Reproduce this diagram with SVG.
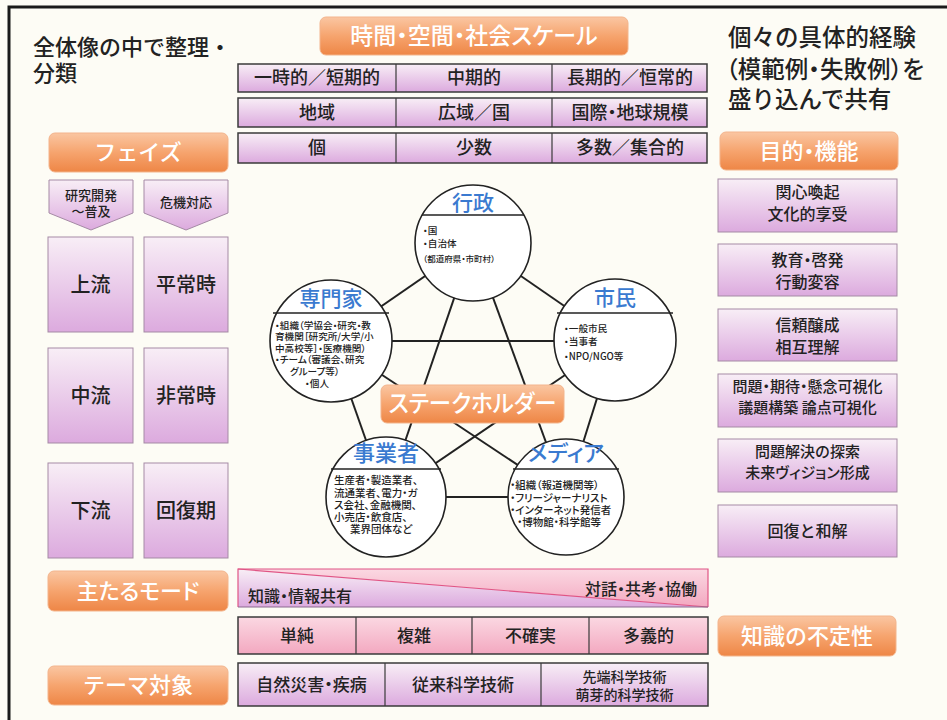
<svg xmlns="http://www.w3.org/2000/svg" width="947" height="720" viewBox="0 0 947 720">
<defs>
<linearGradient id="og" x1="0" y1="0" x2="0" y2="1"><stop offset="0" stop-color="#fac6a2"/><stop offset="0.5" stop-color="#f6a46e"/><stop offset="1" stop-color="#ee8646"/></linearGradient>
<linearGradient id="lg" x1="0" y1="0" x2="0" y2="1"><stop offset="0" stop-color="#f8eef6"/><stop offset="1" stop-color="#dcaade"/></linearGradient>
<linearGradient id="pg" x1="0" y1="0" x2="0" y2="1"><stop offset="0" stop-color="#fbd8e2"/><stop offset="1" stop-color="#f3a8c0"/></linearGradient>
</defs>
<style>
.o{fill:url(#og);stroke:#f3b48c;stroke-width:1}
.l{fill:url(#lg);stroke:#a58aa5;stroke-width:1}
.g{fill:url(#lg);stroke:#3a3a3a;stroke-width:1.5}
.k{fill:url(#pg);stroke:#3a3a3a;stroke-width:1.5}
.d{stroke:#3a3a3a;stroke-width:1.2}
text{font-family:"Noto Sans CJK JP","Noto Sans CJK SC",sans-serif;fill:#222;font-weight:500}
.ow{fill:#fff;text-anchor:middle}
.c{text-anchor:middle}
.p{font-feature-settings:"palt"}
.ttl{fill:#3a7ad0;text-anchor:middle;font-feature-settings:"palt"}
.circ{fill:#fff;stroke:#222;stroke-width:1.6}
.ln{stroke:#222;stroke-width:2}
.dv{stroke:#222;stroke-width:1.3}
.sm{font-size:9.6px;font-feature-settings:"palt"}
</style>
<rect x="0" y="0" width="947" height="720" fill="#fdfcf5"/>
<path d="M9 720 V7 H947" fill="none" stroke="#1a1a1a" stroke-width="3"/>

<g id="title-left">
<text x="33" y="55" font-size="22">全体像の中で整理・</text>
<text x="33" y="81" font-size="22">分類</text>
</g>
<g id="title-right">
<text x="728" y="46" font-size="23.5">個々の具体的経験</text>
<text x="726" y="78" font-size="23.5" class="p">（模範例・失敗例）を</text>
<text x="728" y="108" font-size="23.5">盛り込んで共有</text>
</g>

<g id="scale-header">
<rect class="o" x="320" y="17" width="308" height="38" rx="6"/>
<text class="ow p" x="474" y="44" font-size="23">時間・空間・社会スケール</text>
</g>
<g id="scale-time">
<rect class="g" x="238" y="64" width="469" height="28"/>
<line class="d" x1="396" y1="64" x2="396" y2="92"/><line class="d" x1="552" y1="64" x2="552" y2="92"/>
<text class="c" x="317" y="84" font-size="18">一時的／短期的</text>
<text class="c" x="474" y="84" font-size="18">中期的</text>
<text class="c" x="630" y="84" font-size="18">長期的／恒常的</text>
</g>
<g id="scale-space">
<rect class="g" x="238" y="98" width="469" height="29"/>
<line class="d" x1="396" y1="98" x2="396" y2="127"/><line class="d" x1="552" y1="98" x2="552" y2="127"/>
<text class="c" x="317" y="119" font-size="18">地域</text>
<text class="c" x="474" y="119" font-size="18">広域／国</text>
<text class="c p" x="630" y="119" font-size="18">国際・地球規模</text>
</g>
<g id="scale-social">
<rect class="g" x="238" y="133" width="469" height="30"/>
<line class="d" x1="396" y1="133" x2="396" y2="163"/><line class="d" x1="552" y1="133" x2="552" y2="163"/>
<text class="c" x="317" y="154" font-size="18">個</text>
<text class="c" x="474" y="154" font-size="18">少数</text>
<text class="c" x="630" y="154" font-size="18">多数／集合的</text>
</g>

<g id="phase-header">
<rect class="o" x="49" y="133" width="179" height="39" rx="6"/>
<text class="ow" x="138" y="160" font-size="22">フェイズ</text>
</g>
<g id="phase-rd">
<polygon class="l" points="49,180 133,180 133,213 91,230 49,213"/>
<text class="c" x="91" y="200" font-size="13">研究開発</text>
<text class="c" x="91" y="216" font-size="13">～普及</text>
</g>
<g id="phase-crisis">
<polygon class="l" points="144,180 228,180 228,213 186,230 144,213"/>
<text class="c" x="186" y="207" font-size="13">危機対応</text>
</g>
<g id="phase-upstream"><rect class="l" x="48" y="237" width="85" height="95"/><text class="c" x="90.5" y="292" font-size="20">上流</text></g>
<g id="phase-normal"><rect class="l" x="144" y="237" width="84" height="95"/><text class="c" x="186" y="292" font-size="20">平常時</text></g>
<g id="phase-midstream"><rect class="l" x="48" y="348" width="85" height="95"/><text class="c" x="90.5" y="403" font-size="20">中流</text></g>
<g id="phase-emergency"><rect class="l" x="144" y="348" width="84" height="95"/><text class="c" x="186" y="403" font-size="20">非常時</text></g>
<g id="phase-downstream"><rect class="l" x="48" y="463" width="85" height="95"/><text class="c" x="90.5" y="518" font-size="20">下流</text></g>
<g id="phase-recovery"><rect class="l" x="144" y="463" width="84" height="95"/><text class="c" x="186" y="518" font-size="20">回復期</text></g>

<g id="purpose-header">
<rect class="o" x="720" y="132" width="178" height="38" rx="6"/>
<text class="ow p" x="809" y="159" font-size="22">目的・機能</text>
</g>
<g id="purpose-1"><rect class="l" x="718" y="179" width="179" height="53"/><text class="c" x="807.5" y="198" font-size="16">関心喚起</text><text class="c" x="807.5" y="220" font-size="16">文化的享受</text></g>
<g id="purpose-2"><rect class="l" x="718" y="244" width="179" height="52"/><text class="c p" x="807.5" y="266" font-size="16">教育・啓発</text><text class="c" x="807.5" y="288" font-size="16">行動変容</text></g>
<g id="purpose-3"><rect class="l" x="718" y="309" width="179" height="52"/><text class="c" x="807.5" y="331" font-size="16">信頼醸成</text><text class="c" x="807.5" y="353" font-size="16">相互理解</text></g>
<g id="purpose-4"><rect class="l" x="718" y="374" width="179" height="53"/><text class="c p" x="807.5" y="392" font-size="15">問題・期待・懸念可視化</text><text class="c" x="807.5" y="413" font-size="15">議題構築 論点可視化</text></g>
<g id="purpose-5"><rect class="l" x="718" y="439" width="179" height="53"/><text class="c" x="807.5" y="457" font-size="15">問題解決の探索</text><text class="c p" x="807.5" y="478" font-size="15">未来ヴィジョン形成</text></g>
<g id="purpose-6"><rect class="l" x="718" y="505" width="179" height="52"/><text class="c" x="807.5" y="537" font-size="16">回復と和解</text></g>

<g id="connectors">
<line class="ln" x1="473" y1="243" x2="331" y2="341"/>
<line class="ln" x1="473" y1="243" x2="615" y2="341"/>
<line class="ln" x1="473" y1="243" x2="386" y2="497"/>
<line class="ln" x1="473" y1="243" x2="566" y2="497"/>
<line class="ln" x1="331" y1="341" x2="615" y2="341"/>
<line class="ln" x1="331" y1="341" x2="386" y2="497"/>
<line class="ln" x1="331" y1="341" x2="566" y2="497"/>
<line class="ln" x1="615" y1="341" x2="566" y2="497"/>
<line class="ln" x1="615" y1="341" x2="386" y2="497"/>
<line class="ln" x1="386" y1="497" x2="566" y2="497"/>
</g>

<g id="gyosei">
<circle class="circ" cx="473" cy="243" r="58"/>
<line class="dv" x1="422" y1="215" x2="524" y2="215"/>
<text class="ttl" x="473" y="210" font-size="21">行政</text>
<text x="423" y="234" class="sm">・国</text>
<text x="423" y="247" class="sm">・自治体</text>
<text x="423" y="262" font-size="8.5" class="p">（都道府県・市町村）</text>
</g>
<g id="shimin">
<circle class="circ" cx="615" cy="340" r="61"/>
<line class="dv" x1="557" y1="313" x2="673" y2="313"/>
<text class="ttl" x="615" y="305" font-size="21">市民</text>
<text x="564" y="332" class="sm" fill="#444">・一般市民</text>
<text x="564" y="345" class="sm" fill="#444">・当事者</text>
<text x="564" y="360" class="sm" fill="#444">・NPO/NGO等</text>
</g>
<g id="senmonka">
<circle class="circ" cx="331" cy="341" r="61"/>
<line class="dv" x1="273" y1="313" x2="389" y2="313"/>
<text class="ttl" x="331" y="306" font-size="21">専門家</text>
<text x="275" y="329" class="sm">・組織（学協会・研究・教</text>
<text x="275" y="340" class="sm">育機関［研究所/大学/小</text>
<text x="275" y="352" class="sm">中高校等］・医療機関）</text>
<text x="275" y="363" class="sm">・チーム（審議会、研究</text>
<text x="290" y="375" class="sm">グループ等）</text>
<text x="305" y="387" class="sm">・個人</text>
</g>
<g id="jigyosha">
<circle class="circ" cx="386" cy="497" r="60"/>
<line class="dv" x1="331" y1="469" x2="441" y2="469"/>
<text class="ttl" x="386" y="461" font-size="22">事業者</text>
<text x="334" y="484" font-size="10.5" class="p">生産者・製造業者、</text>
<text x="334" y="497" font-size="10.5" class="p">流通業者、電力・ガ</text>
<text x="334" y="509" font-size="10.5" class="p">ス会社、金融機関、</text>
<text x="334" y="521" font-size="10.5" class="p">小売店・飲食店、</text>
<text x="350" y="533" font-size="10.5" class="p">業界団体など</text>
</g>
<g id="media">
<circle class="circ" cx="566" cy="497" r="58"/>
<line class="dv" x1="513" y1="469" x2="619" y2="469"/>
<text class="ttl" x="566" y="461" font-size="22">メディア</text>
<text x="510" y="489" font-size="10.5" class="p">・組織（報道機関等）</text>
<text x="510" y="502" font-size="10.5" class="p">・フリージャーナリスト</text>
<text x="510" y="514" font-size="10.5" class="p">・インターネット発信者</text>
<text x="517" y="526" font-size="10.5" class="p">・博物館・科学館等</text>
</g>
<g id="stakeholder">
<rect class="o" x="381" y="385" width="183" height="38" rx="6"/>
<text class="ow p" x="472.5" y="412" font-size="24" textLength="168" lengthAdjust="spacingAndGlyphs">ステークホルダー</text>
</g>

<g id="mode-header">
<rect class="o" x="48" y="571" width="180" height="40" rx="6"/>
<text class="ow p" x="138" y="599" font-size="22">主たるモード</text>
</g>
<g id="mode-bar">
<polygon points="238,569 708,607 238,607" fill="url(#lg)"/>
<polygon points="238,569 708,569 708,607" fill="url(#pg)"/>
<line x1="238" y1="569" x2="708" y2="607" stroke="#e05585" stroke-width="1.2"/>
<path d="M238 607 V569 H708 V607" fill="none" stroke="#e05585" stroke-width="1.2"/>
<line x1="238" y1="607" x2="708" y2="607" stroke="#8c6a90" stroke-width="1.2"/>
<text x="248" y="602" font-size="16" class="p">知識・情報共有</text>
<text x="697" y="595" font-size="16" text-anchor="end" class="p">対話・共考・協働</text>
</g>
<g id="uncertainty-row">
<rect class="k" x="238" y="617" width="470" height="37"/>
<line class="d" x1="356" y1="617" x2="356" y2="654"/><line class="d" x1="472" y1="617" x2="472" y2="654"/><line class="d" x1="589" y1="617" x2="589" y2="654"/>
<text class="c" x="297" y="642" font-size="17">単純</text>
<text class="c" x="414" y="642" font-size="17">複雑</text>
<text class="c" x="530.5" y="642" font-size="17">不確実</text>
<text class="c" x="648.5" y="642" font-size="17">多義的</text>
</g>
<g id="uncertainty-header">
<rect class="o" x="718" y="616" width="178" height="40" rx="6"/>
<text class="ow" x="807" y="644" font-size="22">知識の不定性</text>
</g>
<g id="theme-header">
<rect class="o" x="48" y="666" width="180" height="39" rx="6"/>
<text class="ow" x="138" y="693" font-size="22">テーマ対象</text>
</g>
<g id="theme-row">
<rect class="g" x="238" y="663" width="470" height="43"/>
<line class="d" x1="385" y1="663" x2="385" y2="706"/><line class="d" x1="541" y1="663" x2="541" y2="706"/>
<text class="c p" x="311.5" y="691" font-size="17">自然災害・疾病</text>
<text class="c" x="463" y="691" font-size="17">従来科学技術</text>
<text class="c" x="624.5" y="682" font-size="14">先端科学技術</text>
<text class="c" x="624.5" y="700" font-size="14">萌芽的科学技術</text>
</g>
</svg>
